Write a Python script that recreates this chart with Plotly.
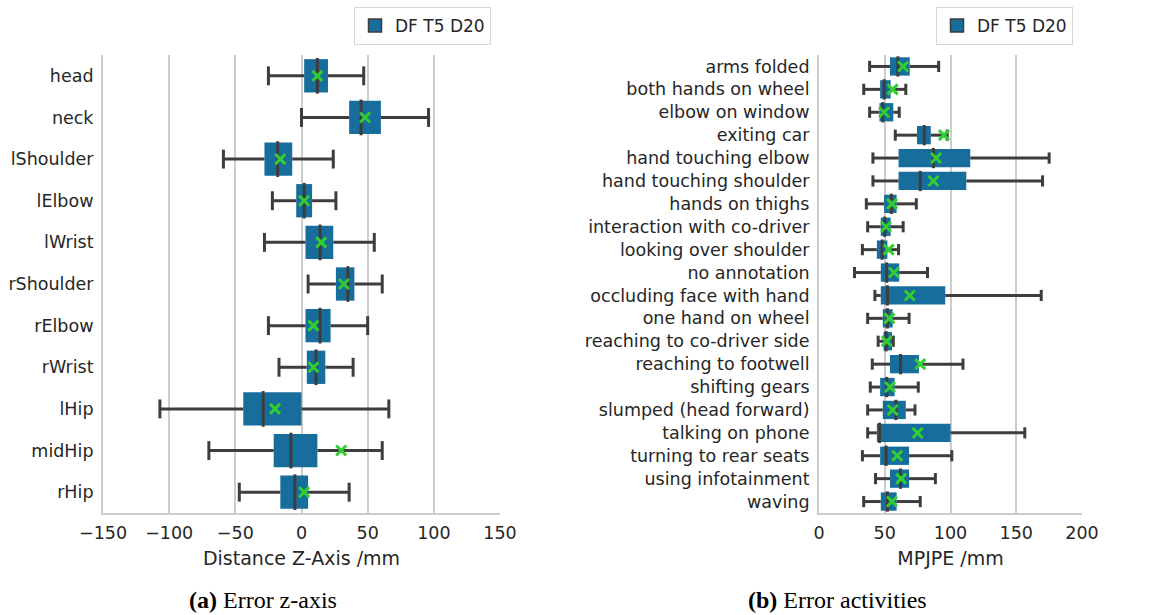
import plotly.graph_objects as go

# ---- (a) per-joint error along the z axis (mm) ----
joints = ["head", "neck", "lShoulder", "lElbow", "lWrist", "rShoulder",
          "rElbow", "rWrist", "lHip", "midHip", "rHip"]
z_lo = [-25, 0, -59, -22, -28, 5, -25, -17, -107, -70, -47]
z_q1 = [2, 36, -28, -4, 3, 26, 3, 4, -44, -21, -16]
z_med = [12, 45, -18, 2, 14, 35, 14, 11, -29, -8, -5]
z_q3 = [20, 60, -7, 8, 24, 40, 22, 18, 0, 12, 5]
z_hi = [47, 96, 24, 26, 55, 61, 50, 39, 66, 61, 36]
z_mean = [12, 48, -16, 2, 15, 32, 9, 9, -20, 30, 2]

# ---- (b) MPJPE per driver activity (mm) ----
activities = ["arms folded", "both hands on wheel", "elbow on window", "exiting car",
              "hand touching elbow", "hand touching shoulder", "hands on thighs",
              "interaction with co-driver", "looking over shoulder", "no annotation",
              "occluding face with hand", "one hand on wheel", "reaching to co-driver side",
              "reaching to footwell", "shifting gears", "slumped (head forward)",
              "talking on phone", "turning to rear seats", "using infotainment", "waving"]
m_lo = [38.5, 34, 38.5, 58, 41, 41, 36, 37, 33, 27, 42.5, 37, 45, 40.5, 39, 37, 37, 33, 43, 34]
m_q1 = [54, 46.5, 46, 74.5, 60.5, 60.5, 49.5, 47, 44, 47, 47, 48.5, 49, 54, 46.5, 48.5, 44, 46.5, 54, 47]
m_med = [60, 49.5, 48.5, 80, 87, 77, 55, 50, 48, 51.5, 52, 52, 51, 62, 51.5, 58.5, 46, 51, 62, 52]
m_q3 = [69, 54.5, 56.5, 85, 115, 112, 59, 54.5, 52, 61, 96, 56, 55.5, 76, 57.5, 66, 100, 68.5, 68.5, 59]
m_hi = [91, 66, 61, 97.5, 175, 170, 74, 64, 60.5, 82.5, 169, 68.5, 56.5, 109.5, 75.5, 73, 156.5, 101, 88.5, 77]
m_mean = [64, 56, 49.5, 95, 89, 87, 55.5, 51, 53, 57, 69, 53.5, 51.5, 77, 54, 56, 75, 59.5, 62.5, 55.5]

series_name = "DF T5 D20"
x_ticks_a = [-150, -100, -50, 0, 50, 100, 150]
x_ticks_b = [0, 50, 100, 150, 200]

BOX = "#176d9c"
DARK = "#3d3d3d"
MEAN = "#32cd32"
GRID = "#cccccc"
TEXT = "#262626"
FONT = "DejaVu Sans"

W, H = 1152, 615

fig = go.Figure()


def add_panel(cats, lo, q1, med, q3, hi, mean, xa, ya, med_size, cap_size, legend):
    # box body: interquartile range as horizontal bars
    fig.add_trace(go.Bar(
        y=cats, x=[b - a for a, b in zip(q1, q3)], base=q1, orientation="h",
        width=0.8, marker=dict(color=BOX, line=dict(width=0)),
        xaxis=xa, yaxis=ya, showlegend=False, hoverinfo="skip"))
    # whiskers: from fences to box edges
    wx, wy = [], []
    for c, a, b, d, e in zip(cats, lo, q1, q3, hi):
        wx += [a, b, None, d, e, None]
        wy += [c, c, None, c, c, None]
    fig.add_trace(go.Scatter(
        x=wx, y=wy, mode="lines", line=dict(color=DARK, width=3),
        xaxis=xa, yaxis=ya, showlegend=False, hoverinfo="skip"))
    # whisker caps
    fig.add_trace(go.Scatter(
        x=list(lo) + list(hi), y=list(cats) + list(cats), mode="markers",
        marker=dict(symbol="line-ns", size=cap_size, color=DARK,
                    line=dict(color=DARK, width=3)),
        xaxis=xa, yaxis=ya, showlegend=False, hoverinfo="skip"))
    # medians
    fig.add_trace(go.Scatter(
        x=med, y=cats, mode="markers",
        marker=dict(symbol="line-ns", size=med_size, color=DARK,
                    line=dict(color=DARK, width=3)),
        xaxis=xa, yaxis=ya, showlegend=False, hoverinfo="skip"))
    # means
    fig.add_trace(go.Scatter(
        x=mean, y=cats, mode="markers",
        marker=dict(symbol="x-thin", size=10, color=MEAN,
                    line=dict(color=MEAN, width=3)),
        xaxis=xa, yaxis=ya, showlegend=False, hoverinfo="skip"))
    # legend entry
    fig.add_trace(go.Scatter(
        x=[None], y=[None], mode="markers", name=series_name,
        marker=dict(symbol="square", size=13, color=BOX,
                    line=dict(color=DARK, width=1.5)),
        xaxis=xa, yaxis=ya, legend=legend, showlegend=True))


add_panel(joints, z_lo, z_q1, z_med, z_q3, z_hi, z_mean, "x", "y", 25.5, 13.5, "legend")
add_panel(activities, m_lo, m_q1, m_med, m_q3, m_hi, m_mean, "x2", "y2", 14.5, 8, "legend2")

y_dom = [(H - 513) / H, (H - 55) / H]


def xaxis(dom, rng, ticks, title):
    return dict(
        domain=dom, range=rng, tickvals=ticks,
        ticktext=[("\u2212" + str(-t)) if t < 0 else str(t) for t in ticks],
        showgrid=True, gridcolor=GRID, gridwidth=1.6, zeroline=False,
        showline=True, linecolor=GRID, linewidth=2, ticks="",
        ticklabelstandoff=3, automargin=False,
        tickfont=dict(family=FONT, size=17.5, color=TEXT),
        title=dict(text=title, font=dict(family=FONT, size=19, color=TEXT), standoff=10),
    )


def yaxis(cats, anchor):
    return dict(
        domain=y_dom, type="category", categoryorder="array", categoryarray=cats,
        range=[len(cats) - 0.5, -0.5], anchor=anchor,
        showgrid=False, zeroline=False, showline=True, linecolor=GRID, linewidth=2,
        ticks="", ticklabelstandoff=4, automargin=False,
        tickfont=dict(family=FONT, size=17.5, color=TEXT),
    )


legend_style = dict(
    xanchor="right", yanchor="top", bgcolor="white", bordercolor="#d6d6d6",
    borderwidth=1, font=dict(family=FONT, size=17, color=TEXT),
)

caption_font = dict(family="Liberation Serif", size=24, color="black")

fig.update_layout(
    width=W, height=H, margin=dict(l=0, r=0, t=0, b=0),
    paper_bgcolor="white", plot_bgcolor="white",
    barmode="overlay",
    xaxis=xaxis([103 / W, 500 / W], [-150, 150], x_ticks_a, "Distance Z-Axis /mm"),
    yaxis=yaxis(joints, "x"),
    xaxis2=dict(xaxis([819 / W, 1082 / W], [0, 200], x_ticks_b, "MPJPE /mm"), anchor="y2"),
    yaxis2=yaxis(activities, "x2"),
    legend=dict(legend_style, x=491 / W, y=1 - 7 / H),
    legend2=dict(legend_style, x=1073 / W, y=1 - 7 / H),
    annotations=[
        dict(text="<b>(a)</b> Error z-axis", x=263 / W, y=1 - 600 / H,
             xref="paper", yref="paper", xanchor="center", yanchor="middle",
             showarrow=False, font=caption_font),
        dict(text="<b>(b)</b> Error activities", x=837 / W, y=1 - 600 / H,
             xref="paper", yref="paper", xanchor="center", yanchor="middle",
             showarrow=False, font=caption_font),
    ],
)

fig.write_html("out.html")
